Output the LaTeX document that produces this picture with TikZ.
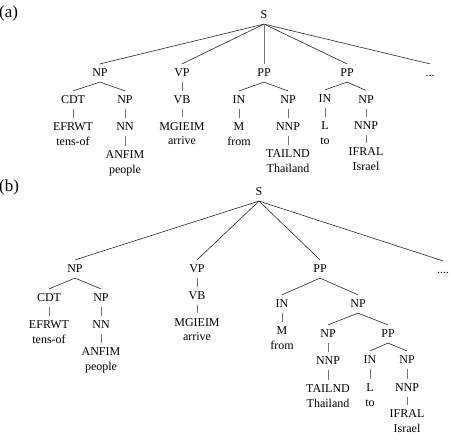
\documentclass[tikz,border=0pt]{standalone}
\usepackage{fontspec}
\setmainfont{Liberation Serif}
\tikzset{
  lab/.style={inner xsep=1bp, inner ysep=5bp, text height=7.8bp, text depth=0bp,
    font=\fontsize{12bp}{14bp}\selectfont, text=black},
  edge/.style={draw=black!85, line width=0.6bp},
  bar/.style={draw=black!55, line width=0.6bp},
  tag/.style={font=\fontsize{17bp}{20bp}\selectfont, anchor=west, inner sep=0pt}
}
\newcommand\mkleaf[5]{%
  \node[lab] (#1) at (#2,#3) {#4};
  \node[lab] (#1g) at (#2,#3+14.5) {#5};}
\begin{document}
\begin{tikzpicture}[x=1bp,y=-1bp]
\useasboundingbox (0,0) rectangle (451,440);
% ---------- (a) ----------
\node[tag] (tagA) at (-1,13) {(a)};
\node[lab] (aS) at (264,15) {S};
\node[lab] (aNP) at (100,73) {NP};
\node[lab] (aVP) at (182,73) {VP};
\node[lab] (aPP1) at (264,73) {PP};
\node[lab] (aPP2) at (347,73) {PP};
\node[lab] (adots) at (430,73) {...};
\node[lab] (aCDT) at (73,100) {CDT};
\node[lab] (aNPb) at (125,100) {NP};
\mkleaf{aEFRWT}{73}{127}{EFRWT}{tens-of}
\node[lab] (aNN) at (125,127) {NN};
\mkleaf{aANFIM}{125}{155}{ANFIM}{people}
\node[lab] (aVB) at (182,100) {VB};
\mkleaf{aMGIEIM}{182}{126.5}{MGIEIM}{arrive}
\node[lab] (aIN1) at (239,100) {IN};
\node[lab] (aNPc) at (288,100) {NP};
\mkleaf{aM}{239}{127}{M}{from}
\node[lab] (aNNP1) at (288,127) {NNP};
\mkleaf{aTAILND}{288}{154}{TAILND}{Thailand}
\node[lab] (aIN2) at (325,99) {IN};
\node[lab] (aNPd) at (366,99.5) {NP};
\mkleaf{aL}{325}{126}{L}{to}
\node[lab] (aNNP2) at (366,126) {NNP};
\mkleaf{aIFRAL}{366}{152}{IFRAL}{Israel}
\foreach \p/\c in {aS/aNP,aS/aVP,aS/aPP2,aS/adots,
  aNP/aCDT,aNP/aNPb,aPP1/aIN1,aPP1/aNPc,aPP2/aIN2,aPP2/aNPd}
  \draw[edge] (\p.south) -- (\c.north);
\foreach \p/\c in {aS/aPP1,aCDT/aEFRWT,aNPb/aNN,aNN/aANFIM,
  aVP/aVB,aVB/aMGIEIM,aIN1/aM,aNPc/aNNP1,aNNP1/aTAILND,
  aIN2/aL,aNPd/aNNP2,aNNP2/aIFRAL}
  \draw[bar] (\p.south) -- (\c.north);
% ---------- (b) ----------
\node[tag] (tagB) at (-1,187) {(b)};
\node[lab] (bS) at (259,192) {S};
\node[lab] (bNP) at (75,269) {NP};
\node[lab] (bVP) at (197,269) {VP};
\node[lab] (bPP) at (320,269) {PP};
\node[lab] (bdots) at (443,270) {....};
\node[lab] (bCDT) at (49,298) {CDT};
\node[lab] (bNPb) at (101,298) {NP};
\mkleaf{bEFRWT}{49}{325}{EFRWT}{tens-of}
\node[lab] (bNN) at (101,325) {NN};
\mkleaf{bANFIM}{101}{352}{ANFIM}{people}
\node[lab] (bVB) at (197,296) {VB};
\mkleaf{bMGIEIM}{197}{322.5}{MGIEIM}{arrive}
\node[lab] (bIN) at (282,304) {IN};
\node[lab] (bNPc) at (358,304) {NP};
\mkleaf{bM}{282}{331}{M}{from}
\node[lab] (bNPd) at (328,334) {NP};
\node[lab] (bPPb) at (388,334) {PP};
\node[lab] (bNNP1) at (328,361) {NNP};
\mkleaf{bTAILND}{328}{389}{TAILND}{Thailand}
\node[lab] (bIN2) at (370,360) {IN};
\mkleaf{bL}{370}{388}{L}{to}
\node[lab] (bNPe) at (407,360) {NP};
\node[lab] (bNNP2) at (407,388) {NNP};
\mkleaf{bIFRAL}{407}{414}{IFRAL}{Israel}
\foreach \p/\c in {bS/bNP,bS/bVP,bS/bPP,bS/bdots,
  bNP/bCDT,bNP/bNPb,bPP/bIN,bPP/bNPc,bNPc/bNPd,bNPc/bPPb,
  bPPb/bIN2,bPPb/bNPe}
  \draw[edge] (\p.south) -- (\c.north);
\foreach \p/\c in {bCDT/bEFRWT,bNPb/bNN,bNN/bANFIM,
  bVP/bVB,bVB/bMGIEIM,bIN/bM,
  bNPd/bNNP1,bNNP1/bTAILND,bIN2/bL,bNPe/bNNP2,bNNP2/bIFRAL}
  \draw[bar] (\p.south) -- (\c.north);
\end{tikzpicture}
\end{document}
